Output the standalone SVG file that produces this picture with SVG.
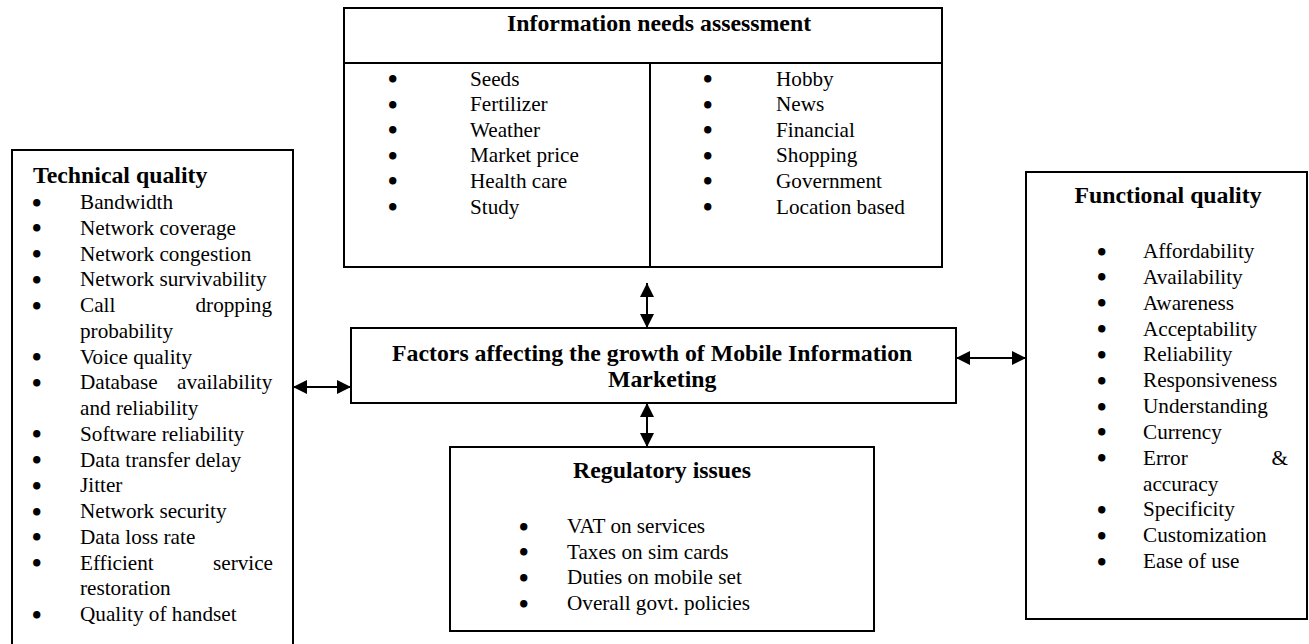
<svg xmlns="http://www.w3.org/2000/svg" width="1309" height="644" viewBox="0 0 1309 644">
<style>
.box{fill:#fff;stroke:#000;stroke-width:2}
.ln{stroke:#000;stroke-width:2;fill:none}
.t{font-family:"Liberation Serif","Times New Roman",serif;font-size:21.2px;fill:#000}
.b{font-family:"DejaVu Sans",sans-serif;font-size:21px;font-weight:bold;fill:#000}
.h{font-family:"Liberation Serif","Times New Roman",serif;font-size:23.8px;font-weight:bold;fill:#000}
.con{stroke:#000;stroke-width:2;fill:none;marker-start:url(#ah);marker-end:url(#ah)}
</style>
<defs>
<marker id="ah" markerUnits="userSpaceOnUse" viewBox="0 0 14 14" markerWidth="14" markerHeight="14" refX="14" refY="7" orient="auto-start-reverse">
<path d="M0,0 L14,7 L0,14 z" fill="#000"/>
</marker>
</defs>
<rect width="1309" height="644" fill="#fff"/>

<g id="connectors">
<line class="con" x1="647" y1="283" x2="647" y2="328"/>
<line class="con" x1="647" y1="403" x2="647" y2="447"/>
<line class="con" x1="293" y1="387" x2="351" y2="387"/>
<line class="con" x1="956" y1="358" x2="1026" y2="358"/>
</g>

<g id="info-needs">
<rect class="box" x="344" y="8" width="598" height="259"/>
<line class="ln" x1="344" y1="63" x2="942" y2="63"/>
<line class="ln" x1="650" y1="63" x2="650" y2="267"/>
<text class="h" x="507" y="31">Information needs assessment</text>
<g class="b" transform="translate(0,1.5)">
<text x="386" y="85.5">•</text><text x="386" y="111.1">•</text><text x="386" y="136.7">•</text>
<text x="386" y="162.3">•</text><text x="386" y="187.9">•</text><text x="386" y="213.5">•</text>
<text x="701" y="85.5">•</text><text x="701" y="111.1">•</text><text x="701" y="136.7">•</text>
<text x="701" y="162.3">•</text><text x="701" y="187.9">•</text><text x="701" y="213.5">•</text>
</g>
<g class="t">
<text x="470" y="85.5">Seeds</text>
<text x="470" y="111.1">Fertilizer</text>
<text x="470" y="136.7">Weather</text>
<text x="470" y="162.3">Market price</text>
<text x="470" y="187.9">Health care</text>
<text x="470" y="213.5">Study</text>
<text x="776" y="85.5">Hobby</text>
<text x="776" y="111.1">News</text>
<text x="776" y="136.7">Financial</text>
<text x="776" y="162.3">Shopping</text>
<text x="776" y="187.9">Government</text>
<text x="776" y="213.5">Location based</text>
</g>
</g>

<g id="technical-quality">
<rect class="box" x="12" y="150" width="281" height="520"/>
<text class="h" x="33" y="183">Technical quality</text>
<g class="b" transform="translate(0,1.5)">
<text x="30" y="209">•</text><text x="30" y="234.75">•</text><text x="30" y="260.5">•</text>
<text x="30" y="286.25">•</text><text x="30" y="312">•</text><text x="30" y="363.5">•</text>
<text x="30" y="389.25">•</text><text x="30" y="440.75">•</text><text x="30" y="466.5">•</text>
<text x="30" y="492.25">•</text><text x="30" y="518">•</text><text x="30" y="543.75">•</text>
<text x="30" y="569.5">•</text><text x="30" y="621">•</text>
</g>
<g class="t">
<text x="80" y="209">Bandwidth</text>
<text x="80" y="234.75">Network coverage</text>
<text x="80" y="260.5">Network congestion</text>
<text x="80" y="286.25">Network survivability</text>
<text y="312"><tspan x="80">Call</tspan> <tspan x="195.5">dropping</tspan></text>
<text x="80" y="337.75">probability</text>
<text x="80" y="363.5">Voice quality</text>
<text y="389.25"><tspan x="80">Database</tspan> <tspan x="177">availability</tspan></text>
<text x="80" y="415">and reliability</text>
<text x="80" y="440.75">Software reliability</text>
<text x="80" y="466.5">Data transfer delay</text>
<text x="80" y="492.25">Jitter</text>
<text x="80" y="518">Network security</text>
<text x="80" y="543.75">Data loss rate</text>
<text y="569.5"><tspan x="80">Efficient</tspan> <tspan x="213">service</tspan></text>
<text x="80" y="595.25">restoration</text>
<text x="80" y="621">Quality of handset</text>
</g>
</g>

<g id="factors">
<rect class="box" x="351" y="328" width="605" height="75"/>
<text class="h" x="392" y="361">Factors affecting the growth of Mobile Information</text>
<text class="h" x="608" y="387">Marketing</text>
</g>

<g id="functional-quality">
<rect class="box" x="1026" y="172" width="281" height="447"/>
<text class="h" x="1168" y="203" text-anchor="middle">Functional quality</text>
<g class="b" transform="translate(0,1.5)">
<text x="1095" y="258">•</text><text x="1095" y="283.8">•</text><text x="1095" y="309.7">•</text>
<text x="1095" y="335.5">•</text><text x="1095" y="361.3">•</text><text x="1095" y="387.2">•</text>
<text x="1095" y="413">•</text><text x="1095" y="438.8">•</text><text x="1095" y="464.6">•</text>
<text x="1095" y="516.3">•</text><text x="1095" y="542.1">•</text><text x="1095" y="568">•</text>
</g>
<g class="t">
<text x="1143" y="258">Affordability</text>
<text x="1143" y="283.8">Availability</text>
<text x="1143" y="309.7">Awareness</text>
<text x="1143" y="335.5">Acceptability</text>
<text x="1143" y="361.3">Reliability</text>
<text x="1143" y="387.2">Responsiveness</text>
<text x="1143" y="413">Understanding</text>
<text x="1143" y="438.8">Currency</text>
<text y="464.6"><tspan x="1143">Error</tspan> <tspan x="1271.5">&amp;</tspan></text>
<text x="1143" y="490.5">accuracy</text>
<text x="1143" y="516.3">Specificity</text>
<text x="1143" y="542.1">Customization</text>
<text x="1143" y="568">Ease of use</text>
</g>
</g>

<g id="regulatory">
<rect class="box" x="450" y="447" width="424" height="184"/>
<text class="h" x="662" y="478" text-anchor="middle">Regulatory issues</text>
<g class="b" transform="translate(0,1.5)">
<text x="517" y="533">•</text><text x="517" y="558.7">•</text><text x="517" y="584.4">•</text><text x="517" y="610">•</text>
</g>
<g class="t">
<text x="567" y="533">VAT on services</text>
<text x="567" y="558.7">Taxes on sim cards</text>
<text x="567" y="584.4">Duties on mobile set</text>
<text x="567" y="610">Overall govt. policies</text>
</g>
</g>
</svg>
